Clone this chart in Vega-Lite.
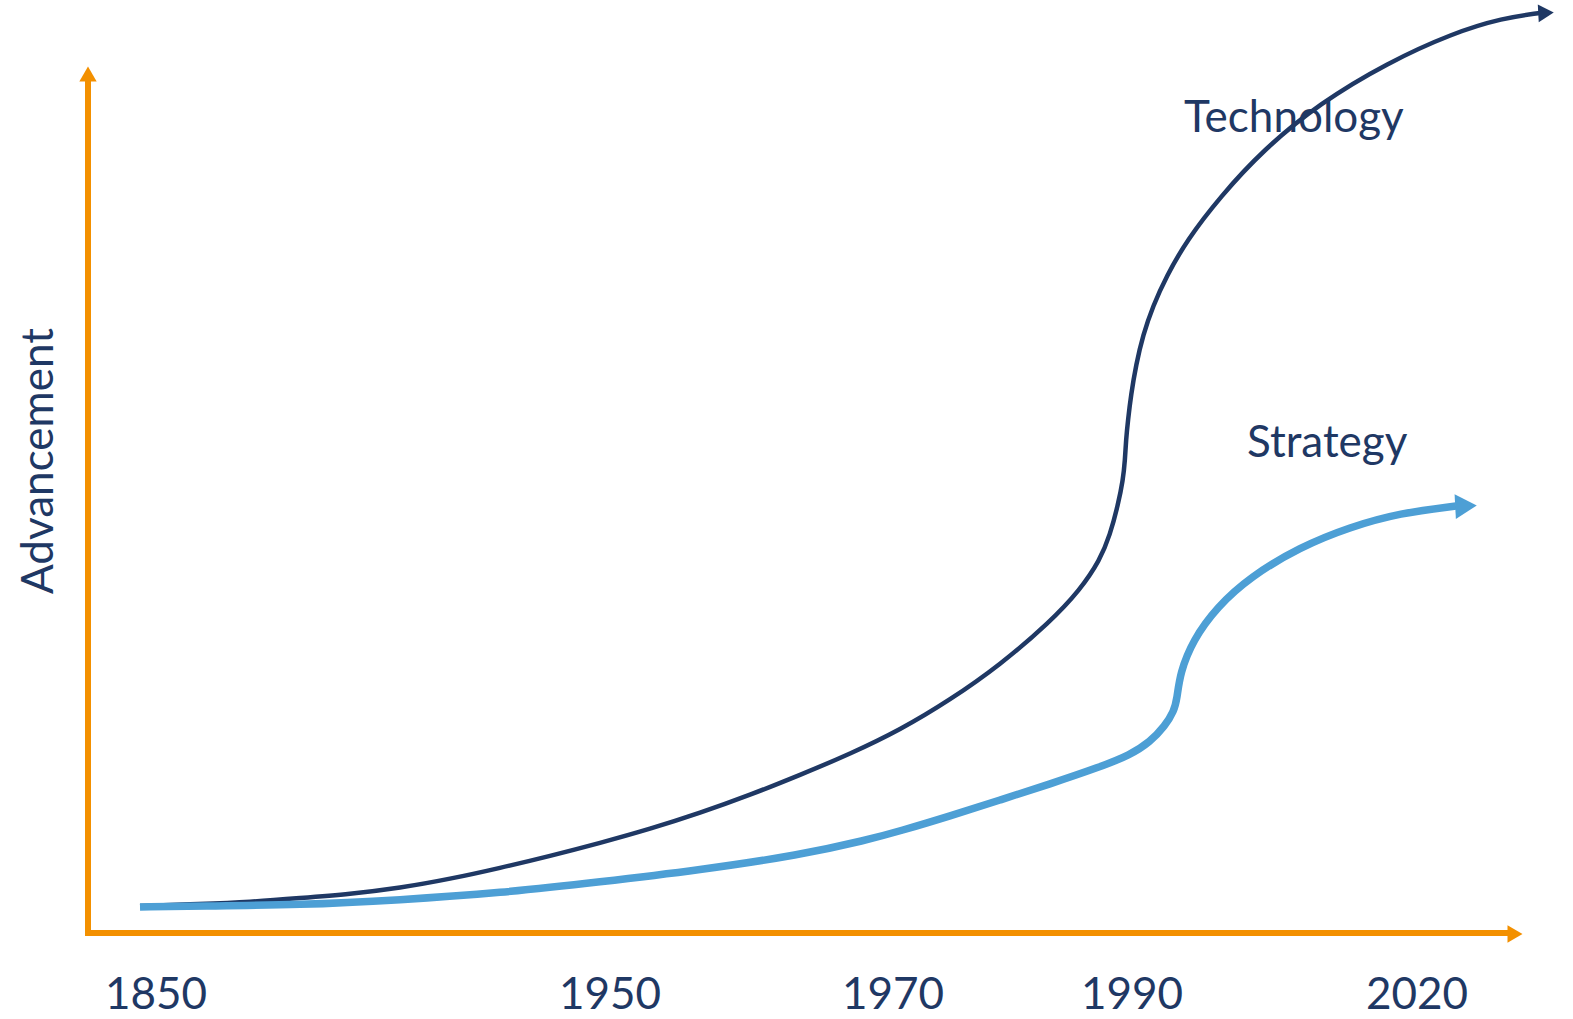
{
  "$schema": "https://vega.github.io/schema/vega-lite/v6.json",
  "width": 1573,
  "height": 1019,
  "autosize": {"type": "none"},
  "padding": 0,
  "background": "white",
  "config": {"view": {"stroke": null}, "font": "Lato"},
  "datasets": {
    "technology": [
      {"pos": 140, "level": 113}, {"pos": 200, "level": 115}, {"pos": 250, "level": 117},
      {"pos": 300, "level": 121}, {"pos": 350, "level": 125}, {"pos": 400, "level": 131},
      {"pos": 450, "level": 140}, {"pos": 500, "level": 151}, {"pos": 550, "level": 163},
      {"pos": 600, "level": 176}, {"pos": 650, "level": 190}, {"pos": 700, "level": 206},
      {"pos": 750, "level": 224}, {"pos": 800, "level": 244}, {"pos": 850, "level": 265},
      {"pos": 900, "level": 289}, {"pos": 950, "level": 319}, {"pos": 1000, "level": 354},
      {"pos": 1050, "level": 397}, {"pos": 1080, "level": 429}, {"pos": 1100, "level": 459},
      {"pos": 1110, "level": 484}, {"pos": 1118, "level": 514}, {"pos": 1123, "level": 539},
      {"pos": 1125, "level": 559}, {"pos": 1126, "level": 579}, {"pos": 1128, "level": 599},
      {"pos": 1131, "level": 624}, {"pos": 1136, "level": 654}, {"pos": 1143, "level": 684},
      {"pos": 1153, "level": 713}, {"pos": 1166, "level": 742}, {"pos": 1187, "level": 779},
      {"pos": 1220, "level": 822}, {"pos": 1263, "level": 869}, {"pos": 1320, "level": 916},
      {"pos": 1387, "level": 956}, {"pos": 1453, "level": 986}, {"pos": 1503, "level": 1001},
      {"pos": 1540, "level": 1006}
    ],
    "strategy": [
      {"pos": 140, "level": 112}, {"pos": 200, "level": 113}, {"pos": 300, "level": 114},
      {"pos": 400, "level": 119}, {"pos": 500, "level": 126}, {"pos": 600, "level": 137},
      {"pos": 700, "level": 149}, {"pos": 800, "level": 164}, {"pos": 867, "level": 179},
      {"pos": 900, "level": 188}, {"pos": 950, "level": 203}, {"pos": 1000, "level": 219},
      {"pos": 1050, "level": 235}, {"pos": 1100, "level": 252}, {"pos": 1130, "level": 264},
      {"pos": 1150, "level": 277}, {"pos": 1165, "level": 293}, {"pos": 1174, "level": 308},
      {"pos": 1177, "level": 320}, {"pos": 1180, "level": 346}, {"pos": 1193, "level": 379},
      {"pos": 1217, "level": 412}, {"pos": 1250, "level": 442}, {"pos": 1300, "level": 472},
      {"pos": 1350, "level": 492}, {"pos": 1400, "level": 506}, {"pos": 1456, "level": 513}
    ],
    "axisLines": [
      {"axis": "horizontal", "pos": 85, "pos2": 1510, "level": 86, "level2": 86},
      {"axis": "vertical", "pos": 88, "pos2": 88, "level": 83, "level2": 940}
    ],
    "years": [
      {"year": "1850", "pos": 156, "level": 1},
      {"year": "1950", "pos": 610, "level": 1},
      {"year": "1970", "pos": 893, "level": 1},
      {"year": "1990", "pos": 1132, "level": 1},
      {"year": "2020", "pos": 1417, "level": 1}
    ]
  },
  "encoding": {
    "x": {"field": "pos", "type": "quantitative", "scale": {"domain": [0, 1573], "nice": false, "zero": false}, "axis": null},
    "y": {"field": "level", "type": "quantitative", "scale": {"domain": [0, 1019], "nice": false, "zero": false}, "axis": null}
  },
  "layer": [
    {
      "data": {"name": "axisLines"},
      "mark": {"type": "rule", "color": "#f39000", "strokeWidth": 6, "strokeCap": "butt"},
      "encoding": {
        "x2": {"field": "pos2"},
        "y2": {"field": "level2"}
      }
    },
    {
      "data": {"values": [{"name": "x-axis head", "pos": 1515, "level": 85}]},
      "mark": {"type": "point", "shape": "triangle-right", "filled": true, "color": "#f39000", "opacity": 1, "size": 300}
    },
    {
      "data": {"values": [{"name": "y-axis head", "pos": 88, "level": 945}]},
      "mark": {"type": "point", "shape": "triangle-up", "filled": true, "color": "#f39000", "opacity": 1, "size": 300}
    },
    {
      "data": {"name": "technology"},
      "mark": {"type": "line", "interpolate": "basis", "color": "#1f3864", "strokeWidth": 4.5, "strokeCap": "butt"}
    },
    {
      "data": {"name": "strategy"},
      "mark": {"type": "line", "interpolate": "basis", "color": "#4d9fd5", "strokeWidth": 7.5, "strokeCap": "butt"}
    },
    {
      "data": {"values": [{"name": "technology head", "pos": 1546, "level": 1006}]},
      "mark": {"type": "point", "shape": "triangle-right", "filled": true, "color": "#1f3864", "opacity": 1, "size": 320, "angle": -3}
    },
    {
      "data": {"values": [{"name": "strategy head", "pos": 1466, "level": 513}]},
      "mark": {"type": "point", "shape": "triangle-right", "filled": true, "color": "#4d9fd5", "opacity": 1, "size": 620, "angle": -3}
    },
    {
      "data": {"name": "years"},
      "mark": {"type": "text", "fontSize": 44, "color": "#1f3864", "align": "center", "baseline": "bottom"},
      "encoding": {"text": {"field": "year"}}
    },
    {
      "data": {"values": [
        {"label": "Technology", "pos": 1184, "level": 887},
        {"label": "Strategy", "pos": 1247, "level": 562}
      ]},
      "mark": {"type": "text", "fontSize": 44, "color": "#1f3864", "align": "left", "baseline": "alphabetic"},
      "encoding": {"text": {"field": "label"}}
    },
    {
      "data": {"values": [{"label": "Advancement", "pos": 53, "level": 558}]},
      "mark": {"type": "text", "fontSize": 44, "color": "#1f3864", "align": "center", "baseline": "alphabetic", "angle": 270},
      "encoding": {"text": {"field": "label"}}
    }
  ]
}
